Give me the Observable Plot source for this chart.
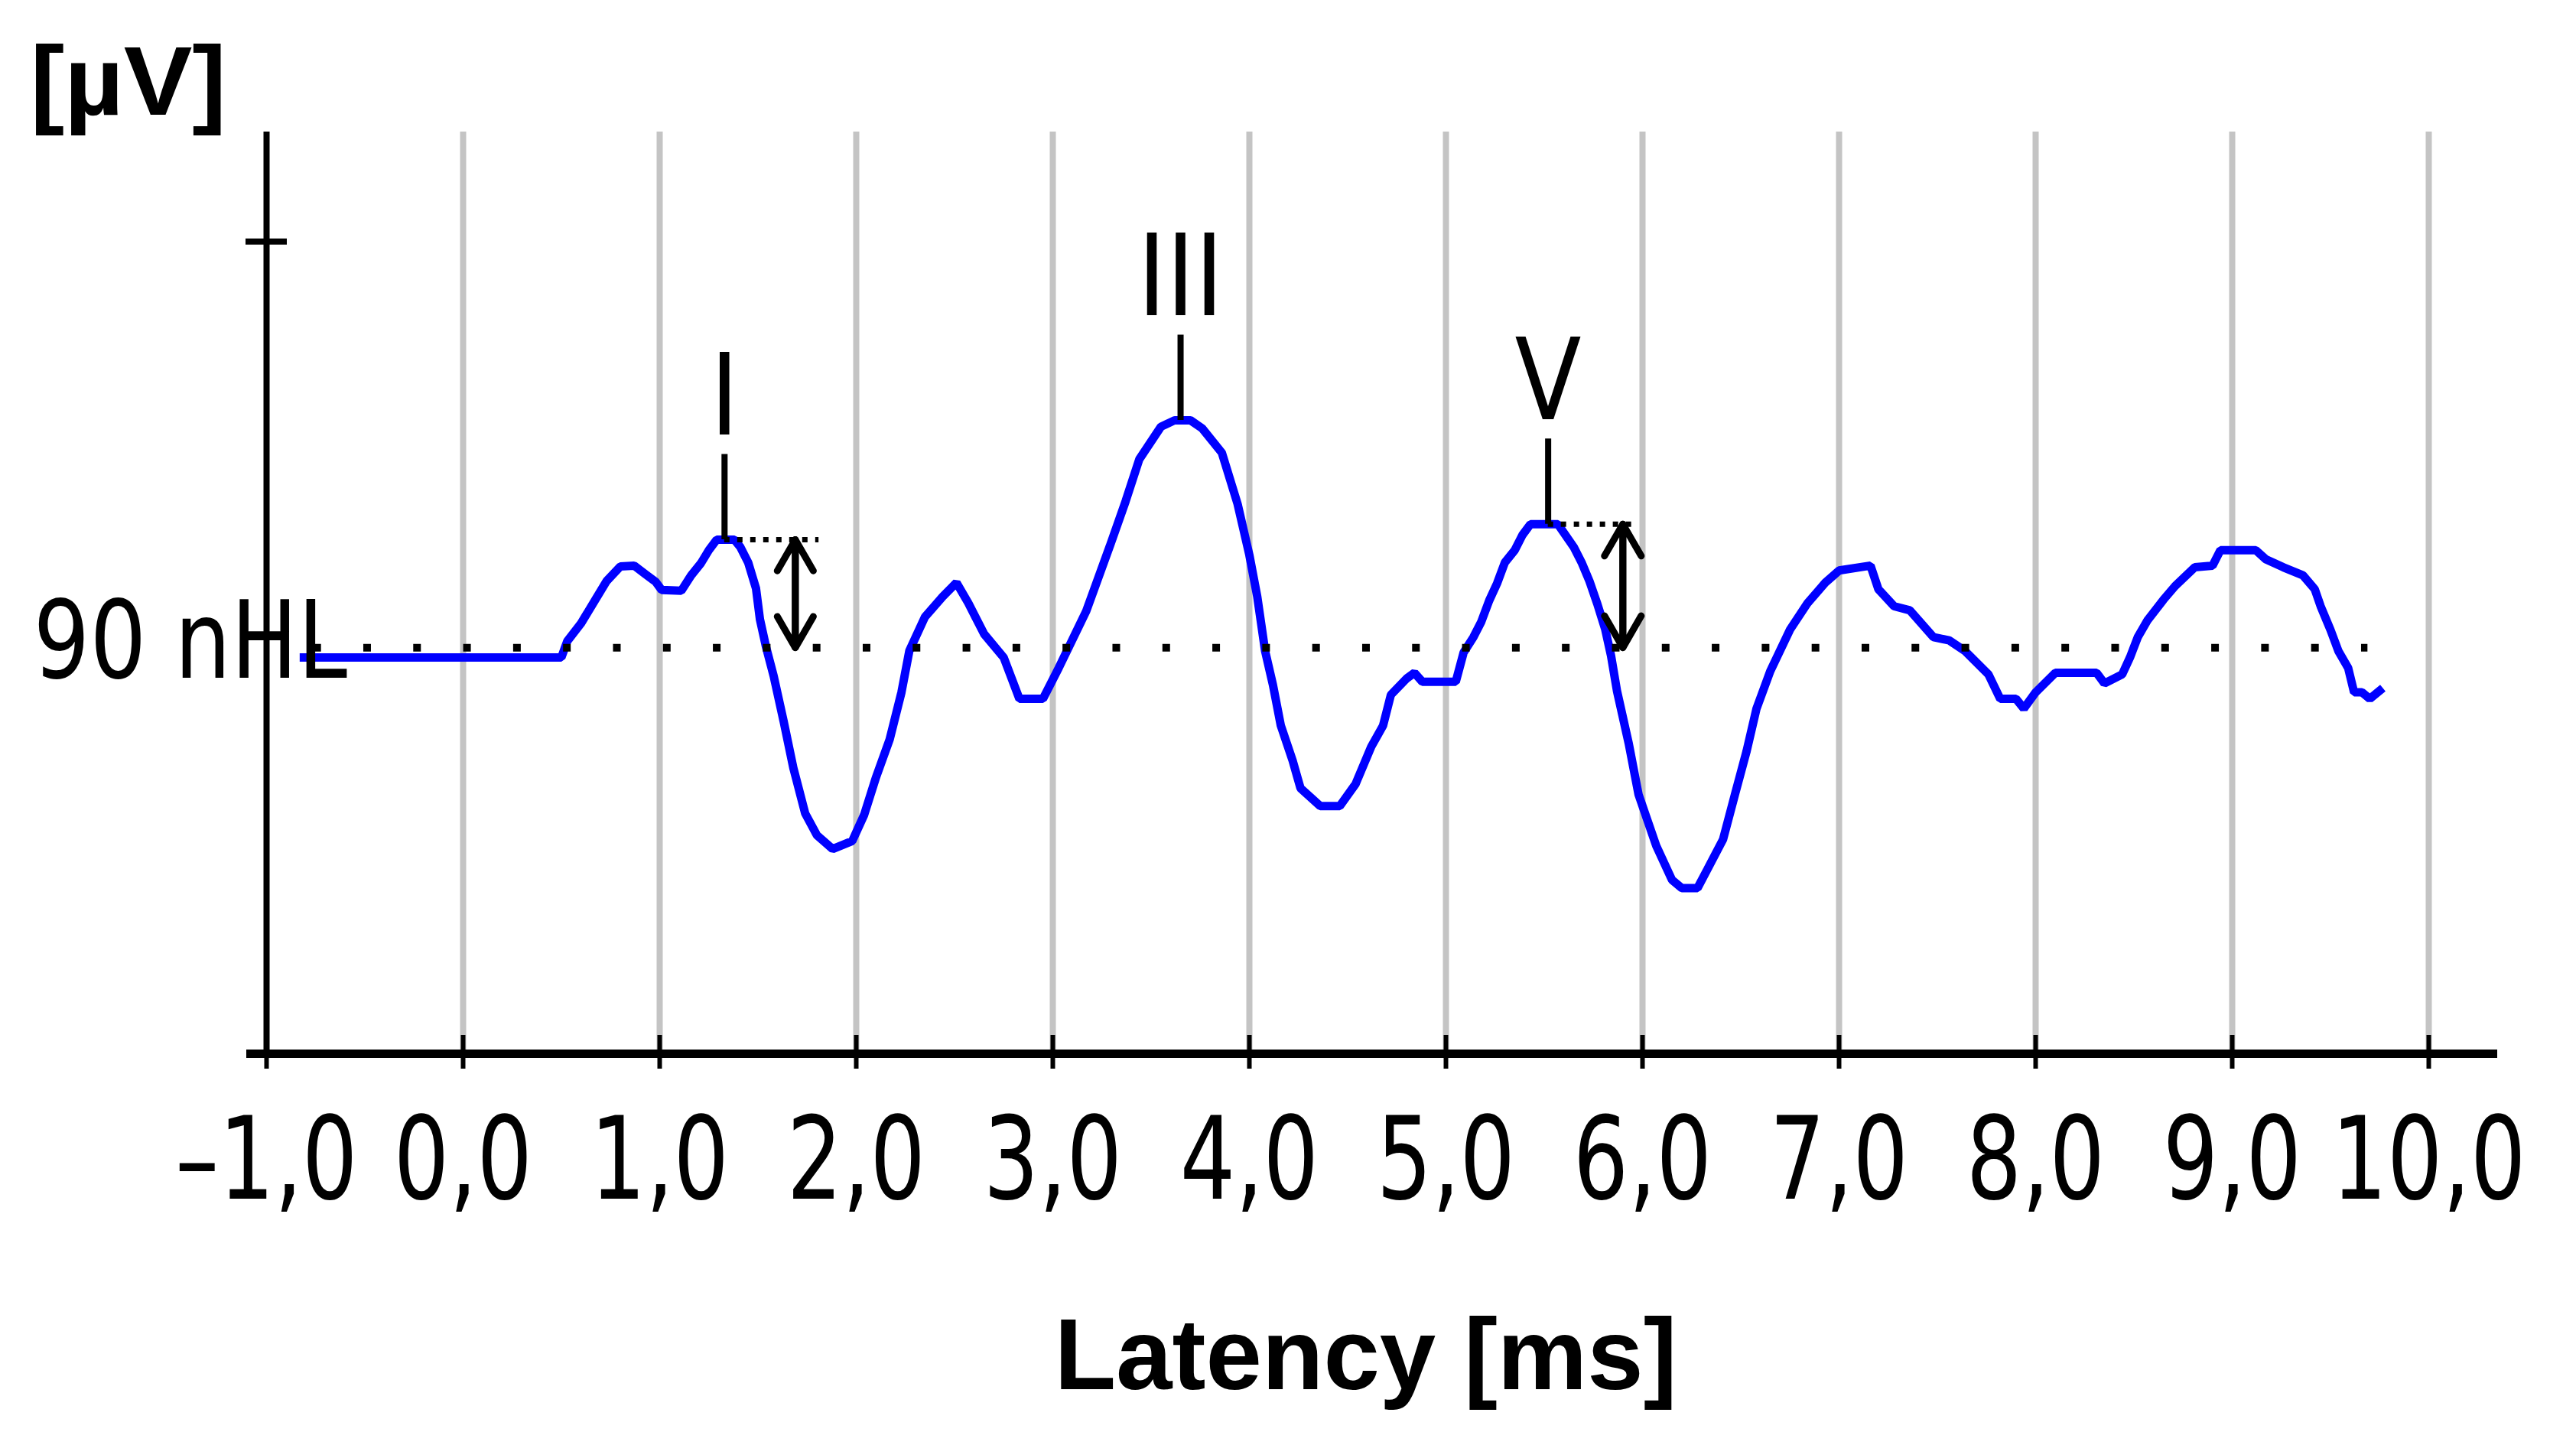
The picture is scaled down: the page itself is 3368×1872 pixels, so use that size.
<!DOCTYPE html>
<html>
<head>
<meta charset="utf-8">
<script src="https://cdn.jsdelivr.net/npm/d3@7"></script>
<script src="https://cdn.jsdelivr.net/npm/@observablehq/plot@0.6"></script>
<style>
  html, body { margin: 0; padding: 0; background: #ffffff; }
  #chart svg { display: block; }
</style>
</head>
<body>
<div id="chart"></div>
<script>
// ---- Data (latency in ms, amplitude in µV relative to baseline) ----
const traceLatency = [
  -0.81, 0.50, 0.53, 0.60, 0.67, 0.73, 0.80, 0.87, 0.93, 0.98,
  1.01, 1.11, 1.16, 1.21, 1.25, 1.29, 1.38, 1.41, 1.45, 1.49,
  1.51, 1.54, 1.58, 1.63, 1.68, 1.74, 1.80, 1.88, 1.98, 2.04,
  2.10, 2.17, 2.23, 2.27, 2.35, 2.44, 2.51, 2.57, 2.65, 2.75,
  2.83, 2.95, 3.03, 3.09, 3.17, 3.23, 3.29, 3.37, 3.44, 3.55,
  3.62, 3.70, 3.76, 3.86, 3.94, 4.00, 4.04, 4.08, 4.12, 4.16,
  4.22, 4.26, 4.36, 4.46, 4.54, 4.62, 4.68, 4.72, 4.80, 4.84,
  4.88, 5.05, 5.09, 5.14, 5.18, 5.22, 5.26, 5.30, 5.35, 5.39,
  5.43, 5.57, 5.65, 5.69, 5.73, 5.77, 5.81, 5.84, 5.87, 5.93,
  5.98, 6.07, 6.15, 6.20, 6.28, 6.33, 6.41, 6.47, 6.53, 6.58,
  6.65, 6.75, 6.84, 6.93, 7.00, 7.16, 7.20, 7.28, 7.36, 7.48,
  7.56, 7.64, 7.76, 7.82, 7.90, 7.94, 8.00, 8.10, 8.31, 8.35,
  8.44, 8.48, 8.52, 8.57, 8.65, 8.71, 8.81, 8.90, 8.94, 9.12,
  9.17, 9.26, 9.36, 9.42, 9.45, 9.50, 9.54, 9.59, 9.62, 9.66,
  9.70, 9.75
];
const traceAmplitude = [
  -0.012, -0.012, 0.008, 0.030, 0.058, 0.082, 0.100, 0.101, 0.090, 0.081,
  0.071, 0.070, 0.089, 0.104, 0.120, 0.133, 0.133, 0.124, 0.105, 0.073,
  0.035, 0.002, -0.035, -0.090, -0.148, -0.204, -0.231, -0.248, -0.238, -0.206,
  -0.160, -0.113, -0.055, -0.004, 0.038, 0.063, 0.080, 0.055, 0.017, -0.012,
  -0.063, -0.063, -0.025, 0.005, 0.045, 0.085, 0.125, 0.180, 0.232, 0.272,
  0.280, 0.280, 0.270, 0.240, 0.177, 0.114, 0.063, -0.004, -0.046, -0.096,
  -0.139, -0.173, -0.195, -0.195, -0.168, -0.122, -0.096, -0.058, -0.038, -0.031,
  -0.042, -0.042, -0.006, 0.013, 0.032, 0.058, 0.079, 0.105, 0.120, 0.139,
  0.152, 0.152, 0.124, 0.105, 0.082, 0.054, 0.023, -0.010, -0.053, -0.118,
  -0.181, -0.244, -0.286, -0.296, -0.296, -0.273, -0.236, -0.181, -0.127, -0.075,
  -0.029, 0.022, 0.055, 0.080, 0.095, 0.101, 0.072, 0.051, 0.046, 0.013,
  0.009, -0.004, -0.033, -0.063, -0.063, -0.075, -0.055, -0.031, -0.031, -0.044,
  -0.033, -0.012, 0.013, 0.034, 0.059, 0.076, 0.099, 0.101, 0.120, 0.120,
  0.109, 0.099, 0.089, 0.072, 0.051, 0.022, -0.004, -0.025, -0.055, -0.055,
  -0.063, -0.053
];

// Wave peaks
const peakLabels = ["I", "III", "V"];
const peakLatency = [1.33, 3.65, 5.52];
const peakAmplitude = [0.133, 0.280, 0.152];

// Amplitude measurements (I and V): arrow position and dotted-line end
const measuredPeaks = ["I", "V"];
const measureArrowLatency = [1.69, 5.90];
const measureLineEnd = [1.81, 5.98];

// Axes
const xTicks = [-1, 0, 1, 2, 3, 4, 5, 6, 7, 8, 9, 10];
const xTickLabels = ["\u20131,0", "0,0", "1,0", "2,0", "3,0", "4,0", "5,0", "6,0", "7,0", "8,0", "9,0", "10,0"];
const gridTicks = [0, 1, 2, 3, 4, 5, 6, 7, 8, 9, 10];
const yTicks = [0.5];
const yDomain = [-0.5, 0.635];
const xDomain = [-1, 10];

// Baseline (stimulus level)
const baselineLabel = "90 nHL";
const baselineLevel = 0;
const baselineRange = [-0.76, 9.69];

const yUnitLabel = "[\u00b5V]";
const xTitle = "Latency [ms]";

// ---- Build tables ----
const trace = traceLatency.map((t, i) => ({t, v: traceAmplitude[i]}));
const peaks = peakLabels.map((label, i) => ({label, t: peakLatency[i], v: peakAmplitude[i]}));
const measures = measuredPeaks.map((label, i) => {
  const p = peaks.find(d => d.label === label);
  return {label, t: p.t, v: p.v, arrowAt: measureArrowLatency[i], end: measureLineEnd[i]};
});
const ticks = xTicks.map((t, i) => ({t, label: xTickLabels[i]}));

// ---- Layout ----
const W = 3368, H = 1872;
const mL = 348, mR = 193, mT = 172, mB = 495;
const frameW = W - mL - mR, frameH = H - mT - mB;
const stemHeight = 0.105;   // length of peak marker stems (µV units)
const plain = "'DejaVu Sans', sans-serif";
const boldSans = "'Liberation Sans', Arial, Helvetica, sans-serif";

const chart = Plot.plot({
  width: W,
  height: H,
  marginLeft: mL,
  marginRight: mR,
  marginTop: mT,
  marginBottom: mB,
  style: {background: "#ffffff", color: "#000000"},
  x: {domain: xDomain, axis: null},
  y: {domain: yDomain, axis: null},
  marks: [
    // vertical grid
    Plot.ruleX(gridTicks, {x: d => d, stroke: "#c4c4c4", strokeWidth: 8}),
    // y axis line
    Plot.ruleX([xDomain[0]], {x: d => d, stroke: "#000", strokeWidth: 8}),
    // y tick (+)
    Plot.tickY(yTicks, {y: d => d, stroke: "#000", strokeWidth: 8, insetLeft: -27, insetRight: frameW - 27}),
    // x axis line
    Plot.ruleY([yDomain[0]], {y: d => d, stroke: "#000", strokeWidth: 11, insetLeft: -26, insetRight: -90}),
    // x ticks crossing axis
    Plot.tickX(xTicks, {x: d => d, stroke: "#000", strokeWidth: 6, insetTop: frameH - 24, insetBottom: -20}),
    // x tick labels
    Plot.text(ticks, {x: "t", text: "label", frameAnchor: "bottom", lineAnchor: "top", dy: 83,
      fontSize: 150, fontFamily: plain, fill: "#000"}),
    // waveform
    Plot.line(trace, {x: "t", y: "v", stroke: "#0000ff", strokeWidth: 11, strokeLinejoin: "miter", strokeLinecap: "square"}),
    // baseline dotted
    Plot.ruleY([baselineLevel], {y: d => d, x1: baselineRange[0], x2: baselineRange[1],
      stroke: "#000", strokeWidth: 10, strokeDasharray: "10 55.3"}),
    // baseline label
    Plot.text([baselineLabel], {text: d => d, y: baselineLevel, frameAnchor: "left", textAnchor: "start",
      lineAnchor: "bottom", dx: 43 - mL, dy: 39, fontSize: 140, fontFamily: plain, fill: "#000"}),
    // peak stems
    Plot.ruleX(peaks, {x: "t", y1: "v", y2: d => d.v + stemHeight, stroke: "#000", strokeWidth: 8}),
    // peak labels
    Plot.text(peaks, {x: "t", y: "v", text: "label", lineAnchor: "bottom", dy: -137,
      fontSize: 148, fontFamily: plain, fill: "#000"}),
    // amplitude dotted lines
    Plot.ruleY(measures, {y: "v", x1: "t", x2: "end", stroke: "#000", strokeWidth: 7, strokeDasharray: "7 10"}),
    // double arrows
    Plot.arrow(measures, {x: "arrowAt", y1: baselineLevel, y2: "v", stroke: "#000", strokeWidth: 9, headLength: 8}),
    Plot.arrow(measures, {x: "arrowAt", y1: "v", y2: baselineLevel, stroke: "#000", strokeWidth: 9, headLength: 8}),
    // y unit
    Plot.text([yUnitLabel], {text: d => d, frameAnchor: "top-left", textAnchor: "start", lineAnchor: "bottom",
      dx: 39 - mL, dy: -23, fontSize: 128, fontWeight: "bold", fontFamily: boldSans, fill: "#000"}),
    // x title
    Plot.text([xTitle], {text: d => d, frameAnchor: "bottom", lineAnchor: "bottom",
      dx: 1785 - (mL + frameW / 2), dy: 438, fontSize: 132, fontWeight: "bold", fontFamily: boldSans, fill: "#000"})
  ]
});

// condensed look of the instrument's screen font: scale each text horizontally about its anchor
const condense = new Map();
xTickLabels.forEach(s => condense.set(s, 0.76));
peakLabels.forEach(s => condense.set(s, 0.86));
condense.set(baselineLabel, 0.83);
condense.set(yUnitLabel, 1.05);
chart.querySelectorAll("text").forEach(t => {
  const sx = condense.get(t.textContent);
  if (sx === undefined) return;
  const tr = t.getAttribute("transform");
  if (tr) {
    t.setAttribute("transform", tr + ` scale(${sx},1)`);
  } else {
    const ax = parseFloat(t.getAttribute("x") || "0");
    t.setAttribute("transform", `translate(${ax},0) scale(${sx},1) translate(${-ax},0)`);
  }
});

document.getElementById("chart").appendChild(chart);
</script>
</body>
</html>
